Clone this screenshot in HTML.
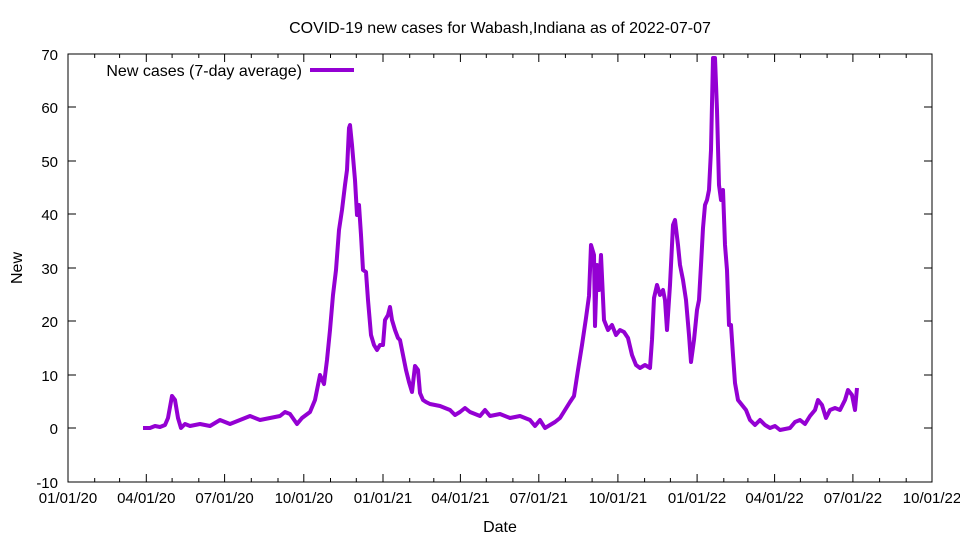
<!DOCTYPE html>
<html><head><meta charset="utf-8"><style>body{margin:0;background:#fff}svg{display:block}text{font-family:"Liberation Sans",sans-serif;font-size:16px;fill:#000}.t{font-size:15px}</style></head><body>
<svg width="960" height="540" viewBox="0 0 960 540">
<rect x="68" y="54" width="864" height="428" fill="none" stroke="#000" stroke-width="1"/>
<g stroke="#000" stroke-width="1">
<path d="M68,482h8M68,428h8M68,375h8M68,321h8M68,268h8M68,214h8M68,161h8M68,107h8M68,54h8"/>
<path d="M932,482h-8M932,428h-8M932,375h-8M932,321h-8M932,268h-8M932,214h-8M932,161h-8M932,107h-8M932,54h-8"/>
<path d="M146.3,482v-8M224.6,482v-8M303.8,482v-8M383,482v-8M460.4,482v-8M538.8,482v-8M617.9,482v-8M697.1,482v-8M774.6,482v-8M852.9,482v-8"/>
<path d="M146.3,54v8M224.6,54v8M303.8,54v8M383,54v8M460.4,54v8M538.8,54v8M617.9,54v8M697.1,54v8M774.6,54v8M852.9,54v8"/>
<path d="M94.7,482v-4M119.6,482v-4M172.1,482v-4M198.8,482v-4M251.3,482v-4M278,482v-4M330.5,482v-4M356.3,482v-4M409.7,482v-4M433.8,482v-4M486.3,482v-4M512.9,482v-4M565.4,482v-4M592.1,482v-4M644.6,482v-4M670.4,482v-4M723.8,482v-4M747.9,482v-4M800.4,482v-4M827.1,482v-4M879.6,482v-4M906.2,482v-4"/>
<path d="M94.7,54v4M119.6,54v4M172.1,54v4M198.8,54v4M251.3,54v4M278,54v4M330.5,54v4M356.3,54v4M409.7,54v4M433.8,54v4M486.3,54v4M512.9,54v4M565.4,54v4M592.1,54v4M644.6,54v4M670.4,54v4M723.8,54v4M747.9,54v4M800.4,54v4M827.1,54v4M879.6,54v4M906.2,54v4"/>
</g>
<g text-anchor="end">
<text class="t" x="58" y="488">-10</text><text class="t" x="58" y="434">0</text><text class="t" x="58" y="381">10</text><text class="t" x="58" y="327">20</text><text class="t" x="58" y="274">30</text><text class="t" x="58" y="220">40</text><text class="t" x="58" y="167">50</text><text class="t" x="58" y="113">60</text><text class="t" x="58" y="60">70</text>
</g>
<g text-anchor="middle">
<text class="t" x="68" y="503">01/01/20</text><text class="t" x="146.3" y="503">04/01/20</text><text class="t" x="224.6" y="503">07/01/20</text><text class="t" x="303.8" y="503">10/01/20</text><text class="t" x="383" y="503">01/01/21</text><text class="t" x="460.4" y="503">04/01/21</text><text class="t" x="538.8" y="503">07/01/21</text><text class="t" x="617.9" y="503">10/01/21</text><text class="t" x="697.1" y="503">01/01/22</text><text class="t" x="774.6" y="503">04/01/22</text><text class="t" x="852.9" y="503">07/01/22</text><text class="t" x="932" y="503">10/01/22</text>
<text x="500" y="532">Date</text>
<text x="500" y="33">COVID-19 new cases for Wabash,Indiana as of 2022-07-07</text>
</g>
<text transform="translate(22,268) rotate(-90)" text-anchor="middle">New</text>
<text x="302" y="76" text-anchor="end">New cases (7-day average)</text>
<line x1="310" y1="70" x2="354" y2="70" stroke="#9400d3" stroke-width="4"/>
<polyline fill="none" stroke="#9400d3" stroke-width="4" stroke-linejoin="round" points="143,428 150,428 155,426 160,427 165,425 168,418 172,396 175,400 178,418 181,428 185,424 190,426 200,424 210,426 220,420 230,424 240,420 250,416 260,420 270,418 280,416 285,412 290,414 297,424 302,418 310,412 315,400 320,375 324,384 327,360 330,330 333,295 336,270 339,230 342,210 345,185 347,170 349,128 350,125 352,145 355,180 357,215 359,205 361,235 363,270 366,272 368,300 371,335 374,345 377,350 380,345 383,345 385,320 388,315 390,307 392,320 395,330 398,338 400,340 403,355 406,370 409,382 412,392 415,366 418,370 420,393 423,400 426,402 430,404 440,406 450,410 455,415 460,412 465,408 470,412 475,414 480,416 485,410 490,416 500,414 510,418 520,416 530,420 535,426 540,420 545,428 555,422 560,418 565,410 570,402 574,396 578,370 582,345 586,318 589,296 591,245 594,255 595,326 597,265 599,290 601,255 604,320 608,330 612,325 616,335 620,330 624,332 628,338 632,355 636,365 640,368 645,365 650,368 652,340 654,298 657,285 660,295 663,290 665,300 667,330 670,285 673,225 675,220 678,245 680,265 683,280 686,300 689,335 691,362 694,340 697,310 699,300 701,265 703,228 705,205 707,200 709,190 711,150 713,58 715,58 717,110 719,185 721,200 723,190 725,245 727,270 729,325 731,325 733,355 735,383 738,400 742,405 746,410 750,420 755,425 760,420 765,425 770,428 775,426 780,430 790,428 795,422 800,420 805,424 810,416 815,410 818,400 822,405 826,418 830,410 835,408 840,410 845,400 848,390 852,395 855,410 857,388"/>
</svg>
</body></html>
